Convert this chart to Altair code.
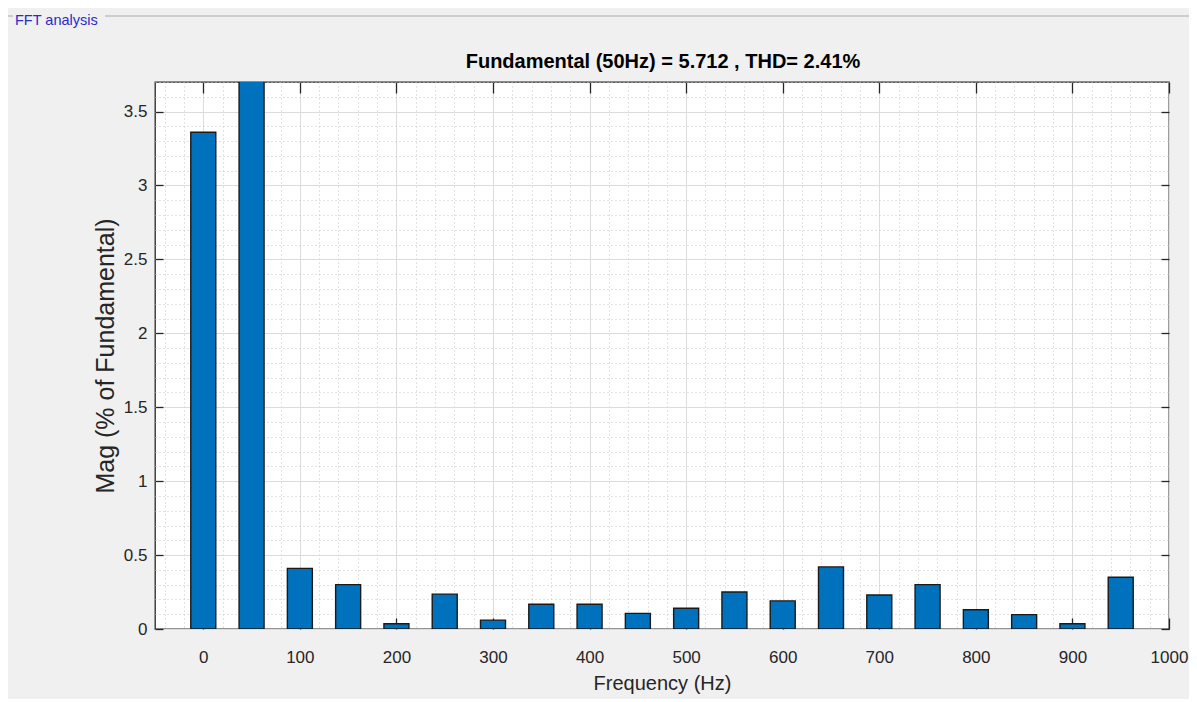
import altair as alt
import pandas as pd

# Harmonic frequencies (Hz) and magnitudes (% of fundamental)
freqs = [0, 50, 100, 150, 200, 250, 300, 350, 400, 450, 500,
         550, 600, 650, 700, 750, 800, 850, 900, 950]
mags = [3.36, 100.0, 0.41, 0.30, 0.036, 0.236, 0.06, 0.167, 0.167, 0.106, 0.14,
        0.25, 0.19, 0.42, 0.23, 0.30, 0.13, 0.097, 0.036, 0.35]

x_major = list(range(0, 1001, 100))
x_minor = list(range(-40, 1001, 20))
y_major = [0, 0.5, 1, 1.5, 2, 2.5, 3, 3.5]
y_minor = [round(i * 0.1, 1) for i in range(0, 38)]

title_text = "Fundamental (50Hz) = 5.712 , THD= 2.41%"
panel_text = "FFT analysis"

W, H = 1014, 547
FONT = "Liberation Sans"
TXT = "#262626"

df = pd.DataFrame({"freq": freqs, "mag": mags})

xs = alt.Scale(domain=[-50, 1000], nice=False, zero=False, padding=0)
ys = alt.Scale(domain=[0, 3.7], nice=False, zero=False, padding=0)

base = alt.Chart(df)


def grid_axis(values, color, dash=None, orient="bottom"):
    kw = dict(values=values, grid=True, gridColor=color, gridWidth=1,
              labels=False, ticks=False, domain=False, title=None, orient=orient)
    if dash:
        kw["gridDash"] = dash
    return alt.Axis(**kw)


minor = base.mark_point(opacity=0).encode(
    x=alt.X("freq:Q", scale=xs, axis=grid_axis(x_minor, "#c4c4c4", [1, 3], "bottom")),
    y=alt.Y("mag:Q", scale=ys, axis=grid_axis(y_minor, "#c4c4c4", [1, 3], "left")),
)

major = base.mark_point(opacity=0).encode(
    x=alt.X("freq:Q", scale=xs, axis=grid_axis(x_major, "#dcdcdc", None, "bottom")),
    y=alt.Y("mag:Q", scale=ys, axis=grid_axis(y_major, "#dcdcdc", None, "left")),
)

bars = base.mark_bar(width=25, color="#0072bd", stroke="#1a1a1a",
                     strokeWidth=1.4, clip=True).encode(
    x=alt.X("freq:Q", scale=xs, axis=alt.Axis(
        values=x_major, grid=False, ticks=False, domain=False, orient="bottom",
        format="d", labelFlush=False, labelOverlap=False,
        title="Frequency (Hz)", labelFontSize=17, labelColor=TXT,
        labelFont=FONT, labelPadding=20, titleFontSize=20, titleFont=FONT,
        titleColor=TXT, titleFontWeight="normal", titlePadding=8)),
    y=alt.Y("mag:Q", scale=ys, axis=alt.Axis(
        values=y_major, grid=False, ticks=False, domain=False, orient="left",
        format="~g", title="Mag (% of Fundamental)", labelFontSize=17,
        labelColor=TXT, labelFont=FONT, labelPadding=8, titleFontSize=25,
        titleFont=FONT, titleColor=TXT, titleFontWeight="normal", titlePadding=5)),
)


def tick_axis(values, orient, offset, size):
    return alt.Axis(values=values, orient=orient, offset=offset, grid=False,
                    labels=False, domain=False, title=None, ticks=True,
                    tickSize=size, tickColor=TXT, tickWidth=1.3)


ticks_a = base.mark_point(opacity=0).encode(
    x=alt.X("freq:Q", scale=xs, axis=tick_axis(x_major, "top", -H, 11)),
    y=alt.Y("mag:Q", scale=ys, axis=tick_axis(y_major, "right", -W, 8)),
)
ticks_b = base.mark_point(opacity=0).encode(
    x=alt.X("freq:Q", scale=xs, axis=tick_axis(x_major, "bottom", -H, 11)),
    y=alt.Y("mag:Q", scale=ys, axis=tick_axis(y_major, "left", -W, 8)),
)

title = alt.Chart(pd.DataFrame({"t": [title_text]})).mark_text(
    align="center", baseline="middle", font=FONT, fontSize=20,
    fontWeight="bold", color="#000000"
).encode(text="t:N", x=alt.value(W / 2 + 1), y=alt.value(-20))

panel = alt.Chart(pd.DataFrame({"t": [panel_text]})).mark_text(
    align="left", baseline="middle", font=FONT, fontSize=14.5, color="#2b2bc8"
).encode(text="t:N", x=alt.value(-140), y=alt.value(-61))

frame_top = alt.Chart(pd.DataFrame({"t": [0]})).mark_rule(
    color="#a8a8a8", strokeWidth=1
).encode(x=alt.value(-50), x2=alt.value(W + 40), y=alt.value(-66))
frame_left = alt.Chart(pd.DataFrame({"t": [0]})).mark_rule(
    color="#a8a8a8", strokeWidth=1
).encode(x=alt.value(-148), y=alt.value(-66), y2=alt.value(H + 80))
frame_top_short = alt.Chart(pd.DataFrame({"t": [0]})).mark_rule(
    color="#a8a8a8", strokeWidth=1
).encode(x=alt.value(-148), x2=alt.value(-142), y=alt.value(-66))

chart = alt.layer(
    minor, major, bars, ticks_a, ticks_b, title, panel,
    frame_top, frame_left, frame_top_short
).resolve_axis(x="independent", y="independent").properties(
    width=W, height=H,
    autosize=alt.AutoSizeParams(type="none"),
    padding={"left": 147, "top": 74, "right": 20, "bottom": 70},
    background="#f0f0f0",
).configure_view(
    fill="white", stroke="#262626", strokeWidth=1.3
)

chart.save("out.html", embed_options={"renderer": "svg", "actions": False})
